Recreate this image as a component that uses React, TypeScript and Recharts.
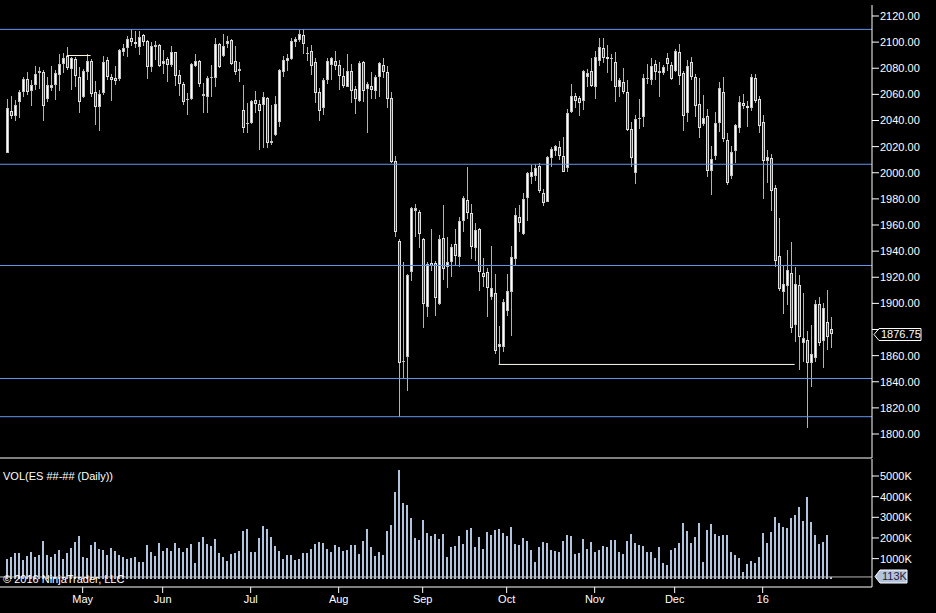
import React from 'react';
import { ComposedChart, BarChart, Bar, XAxis, YAxis, ReferenceLine } from 'recharts';

// ---- Data (ES daily, Apr 2015 - Jan 2016) ----
const opens = [
  2014.9, 2047.3, 2043.7, 2053.9, 2061.8, 2071.8, 2062.8, 2067.2, 2076.6, 2077.1,
  2056.4, 2065.1, 2067.2, 2075.1, 2083.5, 2089.4, 2079.7, 2087.1, 2073.6, 2058.2,
  2077.4, 2085.6, 2061.6, 2050.6, 2060.8, 2086.1, 2073.6, 2072.3, 2071.8, 2092.7,
  2095.2, 2102.9, 2100.3, 2096.5, 2105.5, 2100.9, 2081.2, 2096.0, 2097.8, 2083.0,
  2086.8, 2082.5, 2092.2, 2074.8, 2067.9, 2055.7, 2056.4, 2082.0, 2085.6, 2059.0,
  2058.2, 2072.8, 2072.3, 2098.6, 2089.4, 2098.3, 2101.6, 2085.6, 2078.2, 2048.0,
  2037.6, 2037.8, 2055.7, 2052.4, 2051.9, 2057.0, 2023.0, 2028.9, 2038.6, 2077.4,
  2085.8, 2087.1, 2100.3, 2101.6, 2105.5, 2091.2, 2093.2, 2084.5, 2061.6, 2049.3,
  2071.0, 2082.5, 2085.6, 2082.5, 2074.1, 2065.9, 2077.9, 2064.1, 2055.2, 2084.5,
  2064.1, 2066.7, 2062.8, 2073.0, 2082.5, 2076.9, 2057.0, 2009.2, 1948.0, 1855.6,
  1858.7, 1924.3, 1971.0, 1969.7, 1949.3, 1897.0, 1930.6, 1930.6, 1899.5, 1949.8,
  1927.6, 1931.9, 1945.2, 1935.7, 1963.1, 1979.1, 1968.9, 1942.1, 1956.9, 1923.0,
  1924.3, 1905.1, 1907.7, 1866.8, 1866.8, 1894.4, 1909.0, 1933.7, 1965.9, 1953.1,
  1980.4, 1996.5, 1997.8, 2005.2, 1984.2, 1977.9, 2011.0, 2016.9, 2019.4, 2012.8,
  2003.4, 2046.8, 2058.8, 2057.0, 2054.9, 2073.5, 2077.6, 2065.9, 2085.8, 2095.2,
  2088.4, 2086.8, 2085.0, 2065.4, 2069.2, 2061.6, 2033.2, 1999.5, 2040.9, 2042.4,
  2071.5, 2071.0, 2083.2, 2076.1, 2076.6, 2087.6, 2082.5, 2078.1, 2092.2, 2076.1,
  2046.0, 2085.0, 2073.6, 2052.6, 2037.3, 2043.4, 2001.6, 2013.1, 2037.8, 2061.6,
  2025.1, 1997.7, 2016.9, 2034.5, 2053.1, 2051.3, 2049.8, 2072.3, 2056.2, 2038.6,
  2009.2, 2011.0, 1988.1, 1936.5, 1909.0, 1913.6, 1923.0, 1883.4, 1914.1, 1869.9,
  1871.9, 1854.6, 1858.4, 1899.5, 1871.4, 1885.5, 1880.1,
];
const highs = [
  2056.4, 2058.7, 2055.7, 2063.4, 2073.0, 2077.4, 2071.0, 2081.7, 2081.2, 2078.7,
  2073.6, 2081.7, 2078.7, 2090.9, 2091.4, 2096.0, 2088.9, 2088.9, 2080.7, 2079.2,
  2090.9, 2086.8, 2070.2, 2063.4, 2089.4, 2088.9, 2075.6, 2082.0, 2094.7, 2098.6,
  2104.9, 2109.8, 2108.5, 2108.5, 2106.2, 2101.6, 2100.4, 2101.1, 2098.6, 2094.0,
  2088.9, 2097.0, 2092.7, 2078.7, 2069.2, 2060.8, 2084.3, 2090.9, 2086.3, 2068.4,
  2074.1, 2082.5, 2102.9, 2099.6, 2106.2, 2104.7, 2102.1, 2097.0, 2085.0, 2067.2,
  2053.1, 2055.7, 2062.6, 2055.7, 2061.6, 2058.2, 2051.9, 2058.7, 2079.2, 2089.4,
  2090.9, 2102.9, 2103.7, 2109.3, 2109.8, 2096.0, 2097.8, 2087.6, 2064.6, 2072.3,
  2087.6, 2088.3, 2093.2, 2086.3, 2079.9, 2090.9, 2083.3, 2066.7, 2085.8, 2085.6,
  2069.7, 2077.4, 2074.8, 2085.0, 2088.1, 2082.0, 2062.1, 2012.8, 1949.0, 1931.9,
  1922.2, 1973.5, 1976.1, 1971.5, 1950.3, 1931.9, 1956.9, 1932.4, 1952.3, 1975.3,
  1950.6, 1945.5, 1956.9, 1965.9, 1982.2, 2004.2, 1976.1, 1961.8, 1958.0, 1935.0,
  1926.8, 1943.9, 1922.5, 1882.7, 1903.3, 1922.5, 1943.9, 1972.7, 1975.3, 1984.2,
  2000.8, 2006.0, 2006.4, 2007.7, 1987.5, 2013.1, 2020.0, 2021.2, 2024.3, 2027.1,
  2048.5, 2068.0, 2060.8, 2058.8, 2078.7, 2079.2, 2087.6, 2093.2, 2102.9, 2102.9,
  2097.8, 2090.9, 2092.2, 2072.3, 2080.4, 2071.0, 2039.1, 2044.2, 2056.5, 2075.6,
  2083.0, 2087.6, 2086.3, 2084.5, 2082.5, 2091.9, 2085.0, 2094.7, 2098.6, 2078.1,
  2086.3, 2088.4, 2075.6, 2072.3, 2059.5, 2048.5, 2020.5, 2046.8, 2069.2, 2073.0,
  2030.2, 2020.5, 2037.3, 2058.7, 2060.3, 2055.2, 2075.6, 2075.6, 2058.8, 2044.2,
  2017.4, 2014.4, 1990.6, 1965.1, 1928.9, 1940.9, 1947.2, 1927.6, 1921.7, 1907.7,
  1878.9, 1883.4, 1902.6, 1905.1, 1900.5, 1910.2, 1889.3,
];
const lows = [
  2014.9, 2041.1, 2039.9, 2042.2, 2058.2, 2059.5, 2051.4, 2063.4, 2064.1, 2039.9,
  2054.4, 2062.6, 2055.7, 2062.8, 2076.1, 2078.7, 2063.4, 2065.9, 2046.0, 2057.0,
  2071.0, 2057.7, 2036.6, 2032.2, 2059.5, 2071.0, 2054.9, 2067.2, 2070.5, 2089.4,
  2088.3, 2097.0, 2095.2, 2090.1, 2097.0, 2071.8, 2076.9, 2086.3, 2080.7, 2075.6,
  2069.7, 2081.2, 2066.7, 2058.7, 2051.9, 2044.2, 2055.7, 2080.7, 2065.4, 2046.0,
  2045.5, 2057.7, 2065.4, 2079.9, 2088.9, 2095.2, 2082.5, 2074.8, 2069.7, 2030.7,
  2030.2, 2037.3, 2045.5, 2017.4, 2018.7, 2018.7, 2021.2, 2028.1, 2035.3, 2073.6,
  2078.2, 2086.3, 2096.5, 2100.3, 2090.7, 2085.8, 2074.8, 2053.1, 2039.9, 2044.2,
  2067.9, 2071.0, 2078.7, 2063.4, 2064.6, 2065.4, 2053.6, 2045.0, 2054.4, 2054.4,
  2030.2, 2056.4, 2056.4, 2058.2, 2072.3, 2049.8, 2007.2, 1950.6, 1813.3, 1842.6,
  1833.2, 1917.4, 1950.6, 1942.6, 1881.4, 1889.8, 1925.0, 1890.6, 1898.8, 1917.9,
  1911.5, 1919.9, 1929.4, 1927.6, 1954.9, 1964.6, 1933.7, 1932.7, 1909.5, 1912.8,
  1889.3, 1902.6, 1861.2, 1853.6, 1863.0, 1890.6, 1875.3, 1929.4, 1954.9, 1952.3,
  1963.3, 1991.2, 1993.9, 1984.2, 1974.8, 1977.3, 2004.7, 2012.8, 2009.8, 2000.3,
  2000.8, 2045.5, 2049.3, 2043.7, 2048.0, 2065.9, 2065.9, 2056.5, 2082.0, 2083.8,
  2076.6, 2070.5, 2054.4, 2057.7, 2060.3, 2032.2, 2004.1, 1991.1, 2033.5, 2035.3,
  2067.9, 2067.2, 2071.0, 2058.2, 2074.8, 2077.9, 2071.0, 2076.9, 2067.2, 2032.2,
  2039.1, 2071.0, 2042.4, 2026.9, 2036.0, 1996.5, 1983.0, 2009.8, 2031.4, 2023.8,
  1990.6, 1995.2, 2007.7, 2030.7, 2048.8, 2035.3, 2047.5, 2053.6, 2030.7, 1979.9,
  1992.4, 1971.0, 1928.1, 1909.5, 1891.9, 1898.8, 1877.6, 1870.7, 1849.0, 1855.4,
  1804.3, 1836.2, 1855.4, 1867.4, 1850.8, 1864.3, 1865.6,
];
const closes = [
  2049.3, 2043.7, 2051.9, 2061.8, 2071.8, 2061.8, 2067.2, 2075.6, 2077.9, 2051.4,
  2067.2, 2067.2, 2076.4, 2083.3, 2087.8, 2080.4, 2087.8, 2074.3, 2054.4, 2077.9,
  2085.6, 2060.0, 2050.1, 2060.3, 2084.5, 2073.6, 2070.7, 2070.5, 2094.0, 2095.2,
  2102.4, 2100.3, 2098.3, 2103.7, 2100.3, 2080.7, 2097.0, 2097.8, 2082.0, 2085.3,
  2082.5, 2092.2, 2074.3, 2067.9, 2053.9, 2056.7, 2083.3, 2085.6, 2067.9, 2060.3,
  2072.5, 2073.3, 2098.6, 2081.2, 2097.0, 2100.9, 2083.0, 2077.4, 2079.2, 2034.0,
  2038.1, 2054.9, 2052.4, 2047.5, 2057.7, 2022.5, 2024.6, 2052.4, 2078.7, 2086.3,
  2087.6, 2100.9, 2102.1, 2106.2, 2098.3, 2091.7, 2082.0, 2060.8, 2047.5, 2071.0,
  2085.6, 2087.6, 2082.0, 2074.3, 2066.4, 2077.9, 2062.8, 2056.4, 2084.3, 2062.8,
  2067.9, 2063.4, 2073.6, 2083.8, 2076.9, 2056.2, 2008.0, 1954.9, 1854.1, 1856.1,
  1921.7, 1972.7, 1973.0, 1952.9, 1899.3, 1929.9, 1928.9, 1904.4, 1949.0, 1926.0,
  1931.9, 1942.9, 1936.3, 1963.1, 1980.4, 1969.4, 1942.9, 1956.2, 1924.3, 1920.4,
  1911.5, 1911.5, 1863.8, 1868.9, 1900.8, 1909.5, 1935.8, 1967.6, 1961.3, 1979.6,
  1999.6, 2000.3, 2003.4, 1986.3, 1976.6, 2011.8, 2018.2, 2020.5, 2013.1, 2000.8,
  2045.5, 2058.8, 2055.2, 2053.1, 2077.9, 2076.1, 2066.7, 2088.4, 2096.0, 2087.6,
  2086.8, 2087.6, 2065.9, 2071.0, 2061.6, 2032.7, 2011.0, 2040.9, 2042.2, 2072.3,
  2072.3, 2081.7, 2076.9, 2077.9, 2080.7, 2083.0, 2071.8, 2093.5, 2074.3, 2043.7,
  2081.7, 2073.6, 2051.4, 2034.5, 2041.7, 2001.6, 2010.3, 2037.8, 2064.6, 2025.6,
  1992.4, 2015.6, 2036.5, 2053.9, 2051.3, 2049.3, 2073.0, 2055.2, 2036.0, 2009.2,
  2012.3, 1986.3, 1932.7, 1911.0, 1914.6, 1925.6, 1881.4, 1914.6, 1874.5, 1873.2,
  1854.6, 1861.2, 1899.3, 1869.9, 1896.2, 1874.5, 1876.75,
];
// volume in thousands of contracts
const volumesK = [
  984, 1081, 1274, 1274, 935, 1129, 1323, 1081, 1177, 1855,
  1177, 1081, 1226, 1419, 984, 1274, 1516, 1806, 2097, 1081,
  1032, 1661, 1806, 1468, 1419, 1177, 1516, 1371, 1177, 1081,
  984, 1032, 1081, 839, 839, 1661, 1323, 1129, 1758, 1371,
  1516, 1371, 1758, 1516, 1323, 1516, 1710, 790, 1806, 2048,
  1710, 1613, 1952, 1274, 1081, 887, 1226, 1274, 1371, 2339,
  2435, 1323, 1323, 2000, 2581, 2435, 2048, 1613, 1371, 984,
  1177, 1177, 935, 984, 1274, 1274, 1468, 1710, 1806, 1758,
  1468, 1323, 1661, 1565, 1371, 1419, 1661, 1661, 1226, 1855,
  2435, 1565, 1129, 1323, 1177, 2339, 2629, 4226, 5290, 3694,
  3597, 2968, 2000, 1903, 2871, 2242, 2097, 2194, 1952, 2194,
  1081, 1565, 1613, 2097, 1710, 2387, 2484, 1565, 2048, 1468,
  2290, 2145, 2387, 2435, 2242, 2097, 2532, 1710, 1661, 2000,
  1855, 1419, 839, 1565, 1806, 1758, 1419, 1371, 1323, 1855,
  2145, 2097, 1226, 1274, 1952, 1468, 1806, 1323, 1419, 1613,
  1565, 1903, 1903, 1323, 1226, 1855, 2194, 1758, 1661, 1613,
  1323, 1323, 1032, 1565, 790, 694, 1419, 1516, 1758, 2726,
  2339, 1758, 2048, 2726, 839, 2387, 2677, 2194, 2097, 2145,
  2145, 1323, 1177, 1032, 355, 742, 887, 790, 1081, 2242,
  1758, 2290, 3016, 2726, 2532, 2484, 2968, 3113, 3500, 2823,
  3984, 2774, 2145, 1710, 1806, 2145, 113,
];
const monthTickIdx = [19, 39, 61, 83, 104, 125, 147, 167, 189];
const monthLabels = ['May', 'Jun', 'Jul', 'Aug', 'Sep', 'Oct', 'Nov', 'Dec', '16'];
const priceTicks = [1800, 1820, 1840, 1860, 1880, 1900, 1920, 1940, 1960, 1980, 2000, 2020, 2040, 2060, 2080, 2100, 2120];
const hiddenPriceTick = 1880; // covered by the last-price marker
const volumeTicks = [1000, 2000, 3000, 4000, 5000];
const levelLines = [2109.75, 2006.5, 1929.0, 1842.5, 1813.25];
const segFrom = [15, 123];
const segTo = [21, 197];
const segPrice = [2089.75, 1853.25];
const lastPrice = 1876.75;
const lastVolumeK = 113;

const data = opens.map((o, i) => ({
  i,
  o,
  h: highs[i],
  l: lows[i],
  c: closes[i],
  range: [lows[i], highs[i]],
  v: volumesK[i],
}));

const FONT = "'Liberation Sans', Arial, sans-serif";
const AXIS_PAD = { left: 4.67, right: 39.33 };

function Candle(props: any) {
  const { x, y, width, height, payload } = props;
  if (!payload) return null;
  const { o, h, l, c } = payload;
  const top = Math.min(y, y + height);
  const bottom = Math.max(y, y + height);
  const k = h > l ? (bottom - top) / (h - l) : 0;
  const py = (v: number) => top + (h - v) * k;
  const cx = Math.round(x + width / 2);
  const up = c >= o;
  const bTop = Math.round(py(Math.max(o, c)));
  const bBot = Math.round(py(Math.min(o, c)));
  const bh = Math.max(1, bBot - bTop);
  const wTop = Math.round(top);
  const wH = Math.max(1, Math.round(bottom) - wTop);
  return (
    <g>
      <rect x={cx} y={wTop} width={1} height={wH} fill="#b4b4b4" />
      <rect x={cx - 1} y={bTop} width={3} height={bh} fill={up ? '#c4c4c4' : '#e0e0e0'} />
      {bh > 2 && <rect x={cx} y={bTop + 1} width={1} height={bh - 2} fill={up ? '#ffffff' : '#e00000'} />}
    </g>
  );
}

function VolBar(props: any) {
  const { x, y, width, height } = props;
  const top = Math.round(Math.min(y, y + height));
  const bottom = Math.round(Math.max(y, y + height));
  const cx = Math.round(x + width / 2);
  return <rect x={cx - 1} y={top} width={2} height={Math.max(1, bottom - top)} fill="#b0c4de" />;
}

function PriceTag(props: any) {
  const { viewBox } = props;
  if (!viewBox) return null;
  const x = viewBox.x + viewBox.width;
  const y = Math.round(viewBox.y) + 0.5;
  const pts = `${x + 2},${y} ${x + 7},${y - 6} ${x + 49},${y - 6} ${x + 49},${y + 6} ${x + 7},${y + 6}`;
  return (
    <g>
      <polygon points={pts} fill="#000" stroke="#fff" strokeWidth={1} />
      <text x={x + 9} y={y} dy="0.36em" fill="#fff" fontSize={11} fontFamily={FONT}>
        {lastPrice.toFixed(2)}
      </text>
    </g>
  );
}

function VolTag(props: any) {
  const { viewBox } = props;
  if (!viewBox) return null;
  const x = viewBox.x + viewBox.width;
  const y = Math.round(viewBox.y) - 0.5;
  const pts = `${x + 3},${y} ${x + 8},${y - 6.5} ${x + 35},${y - 6.5} ${x + 35},${y + 6.5} ${x + 8},${y + 6.5}`;
  return (
    <g>
      <polygon points={pts} fill="#b0c4de" stroke="#ffffff" strokeWidth={1} />
      <text x={x + 10} y={y} dy="0.36em" fill="#2a1a3a" fontSize={11} fontFamily={FONT}>
        {`${lastVolumeK}K`}
      </text>
    </g>
  );
}

const tickStyle = { fill: '#ffffff', fontSize: 11, fontFamily: FONT };

export default function App() {
  return (
    <div
      style={{
        position: 'absolute',
        left: 0,
        top: 0,
        width: 936,
        height: 613,
        background: '#000',
        overflow: 'hidden',
        fontFamily: FONT,
      }}
    >
      <div style={{ position: 'absolute', left: 0, top: 0 }}>
        <ComposedChart
          width={936}
          height={459}
          data={data}
          margin={{ top: 5, right: 0, bottom: 0, left: 0 }}
          barCategoryGap={0}
          barGap={0}
        >
          <XAxis
            dataKey="i"
            type="category"
            height={1}
            tick={false}
            tickLine={false}
            axisLine={{ stroke: '#ffffff' }}
            padding={AXIS_PAD}
          />
          <YAxis
            orientation="right"
            width={64}
            type="number"
            domain={[1781.63, 2128.42]}
            allowDataOverflow
            ticks={priceTicks}
            tickFormatter={(v: number) => (v === hiddenPriceTick ? '' : v.toFixed(2))}
            tick={tickStyle}
            tickSize={7}
            tickMargin={1}
            tickLine={{ stroke: '#ffffff' }}
            axisLine={{ stroke: '#ffffff' }}
            interval={0}
          />
          {levelLines.map((p) => (
            <ReferenceLine key={p} y={p} stroke="#6495ed" strokeWidth={1} ifOverflow="visible" />
          ))}
          {segPrice.map((p, k) => (
            <ReferenceLine
              key={`seg${k}`}
              segment={[
                { x: segFrom[k], y: p },
                { x: segTo[k], y: p },
              ]}
              stroke={k === 0 ? '#fff3d6' : '#fffaf0'}
              strokeWidth={1}
              ifOverflow="visible"
            />
          ))}
          <Bar dataKey="range" shape={<Candle />} isAnimationActive={false} />
          <ReferenceLine y={lastPrice} stroke="none" ifOverflow="visible" label={<PriceTag />} />
        </ComposedChart>
      </div>
      <div style={{ position: 'absolute', left: 0, top: 459 }}>
        <BarChart
          width={936}
          height={154}
          data={data}
          margin={{ top: 0, right: 0, bottom: 0, left: 0 }}
          barCategoryGap={0}
          barGap={0}
        >
          <XAxis
            dataKey="i"
            type="category"
            height={26}
            ticks={monthTickIdx}
            interval={0}
            tickFormatter={(v: number) => monthLabels[monthTickIdx.indexOf(v)] ?? ''}
            tick={tickStyle}
            tickSize={6}
            tickMargin={2}
            tickLine={{ stroke: '#ffffff' }}
            axisLine={{ stroke: '#ffffff' }}
            padding={AXIS_PAD}
          />
          <YAxis
            orientation="right"
            width={64}
            type="number"
            domain={[-373, 5823]}
            allowDataOverflow
            ticks={volumeTicks}
            tickFormatter={(v: number) => `${v}K`}
            tick={tickStyle}
            tickSize={7}
            tickMargin={1}
            tickLine={{ stroke: '#ffffff' }}
            axisLine={{ stroke: '#ffffff' }}
            interval={0}
          />
          <ReferenceLine y={lastVolumeK} stroke="#b8b8b8" ifOverflow="visible" />
          <Bar dataKey="v" shape={<VolBar />} isAnimationActive={false} />
          <ReferenceLine y={lastVolumeK} stroke="none" ifOverflow="visible" label={<VolTag />} />
        </BarChart>
      </div>
      <div
        style={{
          position: 'absolute',
          left: 3,
          top: 470,
          color: '#ffffff',
          fontSize: 11,
          lineHeight: '13px',
          whiteSpace: 'nowrap',
        }}
      >
        VOL(ES ##-## (Daily))
      </div>
      <div
        style={{
          position: 'absolute',
          left: 3,
          top: 573,
          color: '#ffffff',
          fontSize: 11,
          lineHeight: '13px',
          whiteSpace: 'nowrap',
        }}
      >
        © 2016 NinjaTrader, LLC
      </div>
    </div>
  );
}
